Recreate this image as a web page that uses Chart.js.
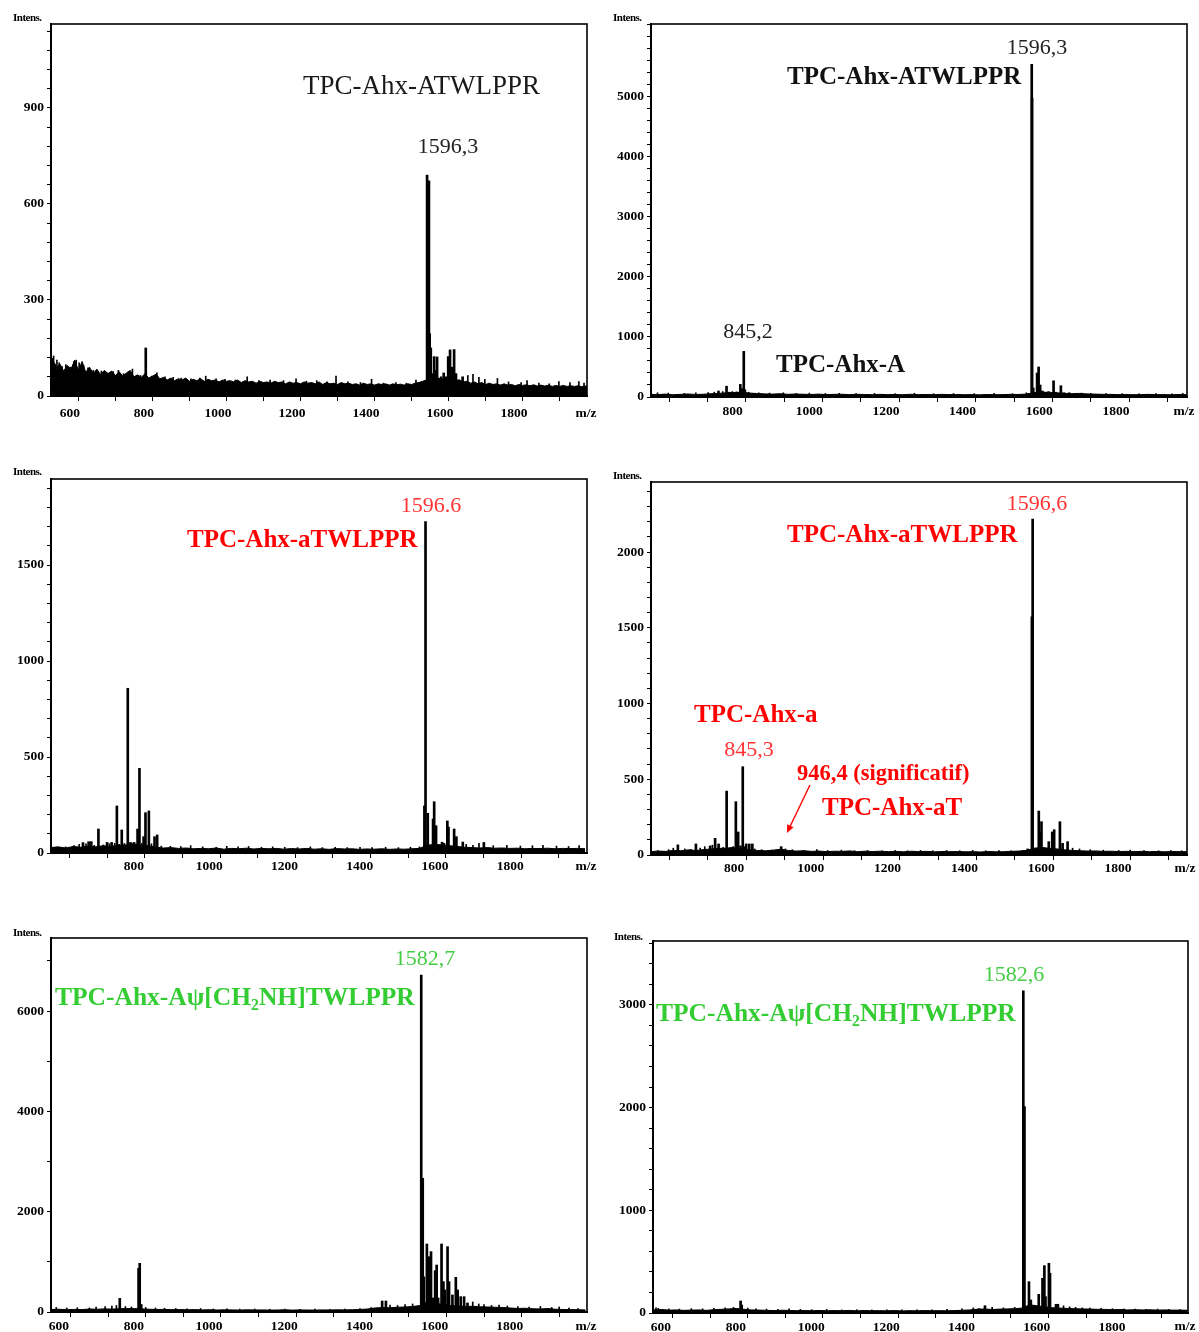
<!DOCTYPE html>
<html><head><meta charset="utf-8">
<script src="https://cdn.jsdelivr.net/npm/chart.js@4.4.1/dist/chart.umd.min.js"></script>
<style>
html,body{margin:0;padding:0;background:#fff;}
body{width:1199px;height:1332px;position:relative;overflow:hidden;font-family:"Liberation Serif","Times New Roman",serif;}
canvas{position:absolute;}
.t{position:absolute;white-space:nowrap;line-height:1;}
.L{transform:translateY(-50%);}
.C{transform:translate(-50%,-50%);}
.n{font-weight:bold;font-size:11px;letter-spacing:-0.5px;color:#000;transform:translateY(-50%);}
.m{font-weight:bold;font-size:13.5px;color:#000;transform:translate(-50%,-50%);}
.b{font-weight:bold;font-size:25px;}
.r{font-weight:normal;font-size:22px;}
.red{color:#ff0000;} .redn{color:#ff3333;}
.grn{color:#33cc33;} .grnn{color:#44cc44;}
sub{font-size:0.62em;vertical-align:-0.3em;line-height:0;}
</style></head><body>
<canvas id="c1" width="600" height="430" style="left:0;top:0"></canvas>
<canvas id="c2" width="599" height="430" style="left:600px;top:0"></canvas>
<canvas id="c3" width="600" height="430" style="left:0;top:455px"></canvas>
<canvas id="c4" width="599" height="430" style="left:600px;top:455px"></canvas>
<canvas id="c5" width="600" height="417" style="left:0;top:915px"></canvas>
<canvas id="c6" width="599" height="417" style="left:600px;top:915px"></canvas>

<div class="t n" style="left:13px;top:17px">Intens.</div>
<div class="t n" style="left:613px;top:17px">Intens.</div>
<div class="t n" style="left:13px;top:471px">Intens.</div>
<div class="t n" style="left:613px;top:475px">Intens.</div>
<div class="t n" style="left:13px;top:932px">Intens.</div>
<div class="t n" style="left:614px;top:936px">Intens.</div>

<div class="t m" style="left:586px;top:413px">m/z</div>
<div class="t m" style="left:1184px;top:411px">m/z</div>
<div class="t m" style="left:586px;top:866px">m/z</div>
<div class="t m" style="left:1185px;top:868px">m/z</div>
<div class="t m" style="left:586px;top:1326px">m/z</div>
<div class="t m" style="left:1185px;top:1326px">m/z</div>

<div class="t L" style="left:303px;top:85px;font-size:27px;color:#1a1a1a">TPC-Ahx-ATWLPPR</div>
<div class="t C r" style="left:448px;top:146px;color:#222">1596,3</div>

<div class="t C r" style="left:1037px;top:47px;color:#222">1596,3</div>
<div class="t L b" style="left:787px;top:75px;color:#111">TPC-Ahx-ATWLPPR</div>
<div class="t C r" style="left:748px;top:331px;color:#222">845,2</div>
<div class="t L b" style="left:776px;top:363px;color:#111">TPC-Ahx-A</div>

<div class="t C r redn" style="left:431px;top:505px">1596.6</div>
<div class="t L b red" style="left:187px;top:538px">TPC-Ahx-aTWLPPR</div>

<div class="t C r redn" style="left:1037px;top:503px">1596,6</div>
<div class="t L b red" style="left:787px;top:533px">TPC-Ahx-aTWLPPR</div>
<div class="t L b red" style="left:694px;top:713px">TPC-Ahx-a</div>
<div class="t C r redn" style="left:749px;top:749px">845,3</div>
<div class="t L red" style="left:797px;top:773px;font-weight:bold;font-size:22.5px">946,4 (significatif)</div>
<div class="t L b red" style="left:822px;top:806px">TPC-Ahx-aT</div>

<div class="t C r grnn" style="left:425px;top:958px">1582,7</div>
<div class="t L b grn" style="left:55px;top:997px;font-size:25.5px">TPC-Ahx-Aψ[CH<sub>2</sub>NH]TWLPPR</div>

<div class="t C r grnn" style="left:1014px;top:974px">1582,6</div>
<div class="t L b grn" style="left:656px;top:1013px;font-size:25.5px">TPC-Ahx-Aψ[CH<sub>2</sub>NH]TWLPPR</div>

<script>
// ---------- tick labels ----------
const xTickLabels = [600, 800, 1000, 1200, 1400, 1600, 1800];
const p1YLabels = [0, 300, 600, 900];
const p2YLabels = [0, 1000, 2000, 3000, 4000, 5000];
const p3YLabels = [0, 500, 1000, 1500];
const p4YLabels = [0, 500, 1000, 1500, 2000];
const p5YLabels = [0, 2000, 4000, 6000];
const p6YLabels = [0, 1000, 2000, 3000];

// ---------- panel 1 : TPC-Ahx-ATWLPPR ----------
const p1NoiseStart = 570, p1NoiseStep = 10;
const p1Noise = [100,
 118,86,100,78,95,84,112,80,108,74,
 90,70,84,66,80,70,78,64,76,62,
 72,80,60,66,58,70,56,62,68,54,
 58,50,56,48,54,50,56,46,52,48,
 54,46,52,48,50,44,50,46,48,44,
 50,42,48,44,46,40,46,42,44,40,
 46,42,44,38,44,40,42,38,44,40,
 42,38,44,36,42,38,40,36,42,38,
 40,36,38,34,40,36,38,34,38,36,
 38,34,38,35,37,34,38,36,40,42,
 46,50,56,52,58,50,56,52,54,48,
 50,44,46,40,44,38,42,36,40,36,
 38,34,38,34,36,32,36,33,35,32,
 35,31,34,31,34,30,33,30,33,30,
 32,30,32,29,31,30];
const p1PeakMz  = [832,1592,1597,1599,1602,1606,1611,1614,1619,1624,1630,1637,1643,1649,1654,1659,1665,1670,1676,1688];
const p1PeakInt = [150, 690, 672, 195, 150,  70, 123,  80, 122,  55,  60,  72,  60, 123, 144,  90, 145,  70,  50,  60];
const p1SpikeMz  = [583,587,592,598,606,616,628,638,644,652,664,676,690,712,726,744,758,772,786,796,818,848,862,884,906,928,954,978,994,1022,1046,1074,1106,1138,1168,1204,1238,1266,1294,1322,1346,1378,1412,1442,1474,1508,1536,1562,1702,1716,1732,1748,1782,1812,1846,1862,1894,1922,1948,1978,2002,2016];
const p1SpikeInt = [125,100,112,104, 92, 98, 90,108,112,104, 96, 88, 80, 78, 74, 76, 80, 70, 74, 84, 64, 62, 72, 60, 58, 56, 54, 56, 62,  54,  52,  50,  60,  48,  50,  48,  54,  46,  48,  44,  62,  44,  42,  52,  40,  42,  40,  50,  64,  68,  58,  52,  55,  44,  42,  48,  40,  38,  45,  42,  45,  40];

// ---------- panel 2 : TPC-Ahx-ATWLPPR / TPC-Ahx-A ----------
const p2NoiseStart = 600, p2NoiseStep = 20;
const p2Noise = [45,40,48,38,44,50,42,46,55,60,
 70,75,80,65,58,52,48,55,45,50,
 46,42,48,40,44,46,40,45,42,38,
 44,40,42,38,45,40,42,38,44,40,
 42,38,40,36,42,38,40,44,42,48,
 70,80,75,70,62,55,60,52,48,45,
 44,40,42,38,40,44,38,40,36,42,
 38,40];
const p2PeakMz  = [779,800,806,836,840,845,848,870,1596,1597,1600,1610,1614,1618,1624,1632,1640,1653,1658,1672,1680,1694,1712];
const p2PeakInt = [100,180, 80,210,140,760,120, 60,5540,4980, 150, 400, 500, 200, 100,  80,  90, 270,  80, 188,  70,  70,  55];
const p2SpikeMz  = [620,648,690,720,752,768,790,815,826,858,884,912,948,982,1016,1058,1094,1138,1186,1240,1290,1340,1392,1446,1498,1546,1582,1726,1750,1790,1832,1876,1920,1962,1990];
const p2SpikeInt = [ 70, 65, 60, 70, 75, 80, 90, 90, 85, 80, 70, 65, 70, 60,  65,  60,  62,  58,  60,  55,  62,  55,  58,  56,  60,  55,  70,  65,  60,  58,  55,  52,  55,  52,  60];

// ---------- panel 3 : TPC-Ahx-aTWLPPR ----------
const p3NoiseStart = 600, p3NoiseStep = 20;
const p3Noise = [28,32,26,34,30,36,32,38,34,40,
 42,45,40,38,30,26,28,24,26,22,
 24,22,26,20,24,22,25,21,24,22,
 24,20,23,21,24,20,22,19,23,21,
 22,19,21,20,22,19,21,20,22,24,
 40,45,42,38,34,30,28,26,28,25,
 26,24,25,22,24,23,25,22,24,23,
 24,22];
const p3PeakMz  = [686,701,708,727,750,762,776,789,805,812,822,831,836,847,852,861,876,883,1593,1596,1602,1616,1619,1624,1640,1645,1654,1657,1672,1678,1695,1751];
const p3PeakInt = [ 54, 59, 59,125, 55, 55,245,120,858, 55, 55,125,441, 85,210,219, 85, 94, 245,1726, 207, 177, 267, 142,  56,  50, 167, 135, 125,  85,  57,  55];
const p3SpikeMz  = [612,640,662,676,694,716,740,756,770,782,796,816,842,868,894,918,946,972,1004,1040,1068,1098,1126,1160,1190,1222,1256,1290,1322,1356,1388,1422,1454,1490,1524,1556,1580,1704,1722,1738,1776,1812,1848,1880,1908,1944,1976,2004];
const p3SpikeInt = [ 30, 32, 38, 45, 48, 40, 42, 48, 50, 45, 50, 52, 50, 48, 36, 35, 34, 38,  32,  30,  35,  32,  34,  30,  32,  30,  28,  32,  28,  30,  28,  30,  28,  30,  28,  30,  32,  45,  40,  50,  38,  40,  36,  38,  40,  36,  34,  38];

// ---------- panel 4 : TPC-Ahx-aTWLPPR / TPC-Ahx-a / TPC-Ahx-aT ----------
const p4NoiseStart = 600, p4NoiseStep = 20;
const p4Noise = [22,26,24,30,28,34,30,36,40,44,
 45,48,42,35,30,28,32,38,30,26,
 28,24,26,22,25,24,27,22,25,23,
 25,22,24,21,25,22,24,21,23,22,
 23,21,22,20,23,21,22,24,26,30,
 45,50,44,40,34,30,28,26,27,24,
 25,23,24,22,24,22,23,21,23,22,
 22,21];
const p4PeakMz  = [672,719,756,769,778,799,812,823,829,835,841,850,858,866,941,1583,1594,1596,1612,1616,1619,1638,1647,1652,1667,1674,1687];
const p4PeakInt = [ 67, 73, 60,110, 73,422, 50,352,152, 60,583, 73, 73, 73, 55,  40,1573,2218, 290, 152, 220,  88, 152, 167, 220,  77,  88];
const p4SpikeMz  = [620,648,660,690,706,730,742,762,790,806,816,846,872,890,918,952,970,1000,1034,1062,1098,1132,1166,1204,1238,1270,1304,1336,1372,1406,1440,1474,1508,1540,1570,1700,1718,1746,1780,1820,1850,1886,1924,1956,1984];
const p4SpikeInt = [ 30, 35, 45, 40, 38, 45, 55, 65, 50, 48, 55, 55, 40, 35, 32, 40, 35,  30,  35,  30,  32,  28,  30,  28,  30,  28,  30,  28,  30,  28,  30,  28,  30,  28,  30,  45,  40,  35,  32,  30,  32,  30,  28,  30,  28];
const p4ArrowFrom = [1016, 462];   // m/z, intensity
const p4ArrowTo   = [956, 145];

// ---------- panel 5 : TPC-Ahx-Aψ[CH2NH]TWLPPR ----------
const p5NoiseStart = 600, p5NoiseStep = 20;
const p5Noise = [50,55,45,52,48,60,55,62,58,65,
 70,68,62,55,50,52,46,50,44,48,
 42,46,40,44,42,38,44,40,42,38,
 40,44,38,42,40,38,42,40,44,42,
 46,50,60,80,90,85,95,100,110,130,
 200,180,150,130,120,110,115,105,100,95,
 90,80,70,75,65,60,70,55,50,48,
 45,42];
const p5PeakMz  = [781,831,834,838,1479,1489,1583,1587,1590,1598,1603,1609,1614,1620,1624,1628,1637,1642,1646,1653,1657,1666,1675,1680,1688,1697,1706];
const p5PeakInt = [272,870,970,150, 219, 219,6720,2666, 700,1356,1103,1203, 280, 824, 937, 280,1356, 605, 440,1303, 605, 340, 692, 440, 306, 306, 180];
const p5SpikeMz  = [612,640,668,700,718,742,760,772,796,812,850,876,900,930,960,996,1030,1066,1100,1140,1180,1220,1260,1300,1340,1380,1420,1450,1500,1520,1540,1560,1720,1736,1750,1770,1790,1812,1840,1870,1900,1930,1950,1976,2000];
const p5SpikeInt = [ 90, 80, 85, 80,100,110,120,130,110,100, 90, 80, 75, 70, 65, 70,  60,  62,  58,  60,  55,  58,  55,  60,  55,  58,  70,  90, 140, 130, 150, 160, 200, 160, 150, 130, 140, 120, 110, 100, 110,  90, 100,  80,  70];

// ---------- panel 6 : TPC-Ahx-Aψ[CH2NH]TWLPPR ----------
const p6NoiseStart = 600, p6NoiseStep = 20;
const p6Noise = [30,34,28,30,26,28,30,26,32,36,
 40,44,36,30,28,26,24,27,25,23,
 24,22,25,21,24,22,25,21,24,22,
 23,21,24,20,23,21,24,22,23,21,
 24,26,30,36,40,34,38,40,42,48,
 80,70,60,52,48,44,42,40,38,36,
 35,32,34,30,32,30,31,28,30,28,
 28,27];
const p6PeakMz  = [831,834,1465,1481,1583,1586,1598,1603,1624,1634,1639,1642,1651,1654,1670,1675];
const p6PeakInt = [117, 77,  42,  71,3136,2010, 305, 127, 182, 338, 461, 159, 484, 387,  85,  85];
const p6SpikeMz  = [606,612,640,668,700,730,760,790,812,850,872,900,930,960,990,1020,1060,1100,1140,1180,1220,1260,1300,1340,1380,1420,1450,1500,1530,1560,1690,1706,1722,1740,1760,1790,1820,1850,1880,1910,1940,1970,2000];
const p6SpikeInt = [ 50, 45, 40, 38, 42, 40, 45, 50, 55, 48, 40, 38, 35, 40, 35,  32,  35,  30,  32,  30,  32,  30,  32,  30,  35,  40,  50,  55,  50,  55,  70,  60,  55,  50,  48,  45,  42,  40,  38,  36,  38,  35,  34];

// ---------- helpers ----------
Chart.defaults.font.family = '"Liberation Serif", "Times New Roman", serif';
function series(start, step, vals) { return vals.map((v, i) => ({ x: start + i * step, y: v })); }
function sticks(mz, ints) { return mz.map((m, i) => ({ x: m, y: ints[i] })); }
function stepTicks(min, max, step) {
  const out = [];
  for (let v = Math.ceil(min / step) * step; v < max; v += step) out.push({ value: v });
  return out;
}

const framePlugin = {
  id: 'frame',
  afterDraw(chart) {
    const a = chart.chartArea, c = chart.ctx;
    c.save(); c.strokeStyle = '#000'; c.lineWidth = 1.6;
    c.strokeRect(a.left, a.top, a.right - a.left, a.bottom - a.top);
    c.restore();
  }
};

function arrowPlugin(from, to, color) {
  return {
    id: 'arrow',
    afterDatasetsDraw(chart) {
      const xs = chart.scales.x, ys = chart.scales.y, c = chart.ctx;
      const x1 = xs.getPixelForValue(from[0]), y1 = ys.getPixelForValue(from[1]);
      const x2 = xs.getPixelForValue(to[0]), y2 = ys.getPixelForValue(to[1]);
      const ang = Math.atan2(y2 - y1, x2 - x1), L = 8, W = 3.5;
      c.save(); c.strokeStyle = color; c.fillStyle = color; c.lineWidth = 1.4;
      c.beginPath(); c.moveTo(x1, y1);
      c.lineTo(x2 - L * 0.8 * Math.cos(ang), y2 - L * 0.8 * Math.sin(ang)); c.stroke();
      c.beginPath(); c.moveTo(x2, y2);
      c.lineTo(x2 - L * Math.cos(ang) + W * Math.sin(ang), y2 - L * Math.sin(ang) - W * Math.cos(ang));
      c.lineTo(x2 - L * Math.cos(ang) - W * Math.sin(ang), y2 - L * Math.sin(ang) + W * Math.cos(ang));
      c.closePath(); c.fill(); c.restore();
    }
  };
}

function makeChart(id, cfg, extra) {
  const tickFont = { family: '"Liberation Serif", "Times New Roman", serif', weight: 'bold', size: 13.5 };
  new Chart(document.getElementById(id), {
    type: 'line',
    data: {
      datasets: [
        { type: 'line', data: series(cfg.noiseStart, cfg.noiseStep, cfg.noise), fill: 'origin',
          backgroundColor: '#000', borderColor: '#000', borderWidth: 1, pointRadius: 0, tension: 0, order: 3 },
        { type: 'bar', data: sticks(cfg.spikeMz, cfg.spikeInt), backgroundColor: '#000',
          barThickness: 1, grouped: false, order: 2 },
        { type: 'bar', data: sticks(cfg.peakMz, cfg.peakInt), backgroundColor: '#000',
          barThickness: 2, grouped: false, order: 1 }
      ]
    },
    options: {
      responsive: false, animation: false, events: [],
      layout: { padding: { top: cfg.top, right: cfg.right, left: 0, bottom: 0 } },
      plugins: { legend: { display: false }, tooltip: { enabled: false } },
      scales: {
        x: {
          type: 'linear', min: cfg.xMin, max: cfg.xMax, offset: false,
          afterBuildTicks: s => { s.ticks = stepTicks(cfg.xMin, cfg.xMax, 100); },
          afterFit: s => { s.height = cfg.xH; },
          border: { display: true, color: '#000', width: 2 },
          grid: { drawOnChartArea: false, drawTicks: true, tickLength: 5, tickColor: '#000', tickWidth: 1 },
          ticks: { autoSkip: false, maxRotation: 0, includeBounds: false,
                   labelOffset: cfg.lo, padding: cfg.xPad, color: '#000', font: tickFont,
                   callback: v => xTickLabels.includes(v) ? String(v) : '' }
        },
        y: {
          type: 'linear', min: 0, max: cfg.yMax,
          afterBuildTicks: s => { s.ticks = stepTicks(0, cfg.yMax, cfg.yStep); },
          afterFit: s => { s.width = cfg.yW; },
          border: { display: true, color: '#000', width: 2 },
          grid: { drawOnChartArea: false, drawTicks: true, tickLength: 4, tickColor: '#000', tickWidth: 1 },
          ticks: { autoSkip: false, includeBounds: false, padding: 3,
                   color: '#000', font: tickFont,
                   callback: v => cfg.yLabels.includes(v) ? String(v) : '' }
        }
      }
    },
    plugins: [framePlugin].concat(extra || [])
  });
}

makeChart('c1', { noiseStart: p1NoiseStart, noiseStep: p1NoiseStep, noise: p1Noise,
  peakMz: p1PeakMz, peakInt: p1PeakInt, spikeMz: p1SpikeMz, spikeInt: p1SpikeInt,
  xMin: 576, xMax: 2024, yMax: 1162, yStep: 60, yLabels: p1YLabels,
  top: 24, right: 13, yW: 51, xH: 34, lo: 10, xPad: 4 });
makeChart('c2', { noiseStart: p2NoiseStart, noiseStep: p2NoiseStep, noise: p2Noise,
  peakMz: p2PeakMz, peakInt: p2PeakInt, spikeMz: p2SpikeMz, spikeInt: p2SpikeInt,
  xMin: 603, xMax: 2001, yMax: 6213, yStep: 200, yLabels: p2YLabels,
  top: 24, right: 12, yW: 51, xH: 33, lo: 6, xPad: 1 });
makeChart('c3', { noiseStart: p3NoiseStart, noiseStep: p3NoiseStep, noise: p3Noise,
  peakMz: p3PeakMz, peakInt: p3PeakInt, spikeMz: p3SpikeMz, spikeInt: p3SpikeInt,
  xMin: 601, xMax: 2025, yMax: 1948, yStep: 100, yLabels: p3YLabels,
  top: 24, right: 13, yW: 51, xH: 32, lo: 8, xPad: 0 });
makeChart('c4', { noiseStart: p4NoiseStart, noiseStep: p4NoiseStep, noise: p4Noise,
  peakMz: p4PeakMz, peakInt: p4PeakInt, spikeMz: p4SpikeMz, spikeInt: p4SpikeInt,
  xMin: 602, xMax: 1998, yMax: 2463, yStep: 100, yLabels: p4YLabels,
  top: 27, right: 12, yW: 51, xH: 30, lo: 7, xPad: 0 }, [arrowPlugin(p4ArrowFrom, p4ArrowTo, '#ff0000')]);
makeChart('c5', { noiseStart: p5NoiseStart, noiseStep: p5NoiseStep, noise: p5Noise,
  peakMz: p5PeakMz, peakInt: p5PeakInt, spikeMz: p5SpikeMz, spikeInt: p5SpikeInt,
  xMin: 598, xMax: 2024, yMax: 7457, yStep: 1000, yLabels: p5YLabels,
  top: 23, right: 13, yW: 51, xH: 20, lo: 7, xPad: 1 });
makeChart('c6', { noiseStart: p6NoiseStart, noiseStep: p6NoiseStep, noise: p6Noise,
  peakMz: p6PeakMz, peakInt: p6PeakInt, spikeMz: p6SpikeMz, spikeInt: p6SpikeInt,
  xMin: 598, xMax: 2021, yMax: 3622, yStep: 200, yLabels: p6YLabels,
  top: 26, right: 11, yW: 53, xH: 19, lo: 7, xPad: 1 });
</script>
</body></html>
